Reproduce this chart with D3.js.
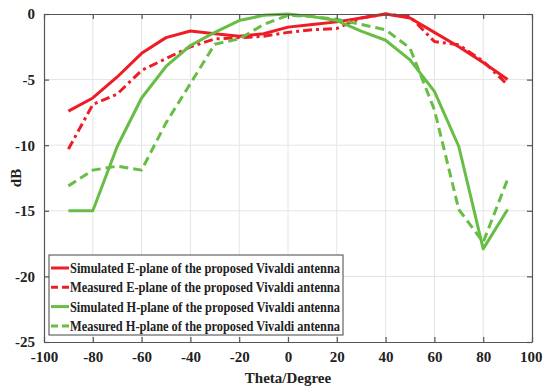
<!DOCTYPE html>
<html>
<head>
<meta charset="utf-8">
<script src="https://d3js.org/d3.v7.min.js"></script>
<style>
  body { margin: 0; background: white; }
  text { font-family: "Liberation Serif", "Times New Roman", serif; font-weight: bold; fill: #222; }
  .grid line { stroke: #e4e4e4; }
  .line { fill: none; stroke-width: 3px; stroke-linejoin: round; }
</style>
</head>
<body>
<div id="chart"></div>
<script>
const theta = [-90, -80, -70, -60, -50, -40, -30, -20, -10, 0, 10, 20, 30, 40, 50, 60, 70, 80, 90]
const simE  = [-7.4, -6.4, -4.8, -3.0, -1.8, -1.3, -1.5, -1.7, -1.5, -1.0, -0.8, -0.6, -0.3, 0, -0.3, -1.4, -2.5, -3.7, -5.0]
const measE = [-10.3, -6.9, -6.1, -4.3, -3.4, -2.5, -1.9, -1.8, -1.7, -1.4, -1.2, -1.1, -0.3, 0, -0.2, -2.1, -2.35, -3.6, -5.4]
const simH  = [-15, -15, -10.1, -6.4, -4.0, -2.4, -1.4, -0.5, -0.1, 0, -0.2, -0.5, -1.3, -2.0, -3.5, -5.9, -10.1, -17.9, -14.9]
const measH = [-13.1, -11.9, -11.6, -11.9, -8.3, -5.3, -2.3, -1.9, -0.8, -0.1, -0.2, -0.4, -0.8, -1.2, -2.6, -7.3, -14.9, -17.4, -12.6]

const xTicks = [-100, -80, -60, -40, -20, 0, 20, 40, 60, 80, 100]
const yTicks = [-25, -20, -15, -10, -5, 0]

const series = [
  {name: 'Simulated E-plane of the proposed Vivaldi antenna', values: simE, color: '#ee1c25', dash: null},
  {name: 'Measured E-plane of the proposed Vivaldi antenna', values: measE, color: '#ee1c25', dash: '9,4,3,4'},
  {name: 'Simulated H-plane of the proposed Vivaldi antenna', values: simH, color: '#68bd45', dash: null},
  {name: 'Measured H-plane of the proposed Vivaldi antenna', values: measH, color: '#68bd45', dash: '9,5'}
]

const width = 542, height = 389
const margin = {left: 44, right: 10, top: 14, bottom: 47}

const svg = d3.select('#chart').append('svg')
  .attr('width', width)
  .attr('height', height)

const x = d3.scaleLinear().domain([-100, 100]).range([margin.left, width - margin.right])
const y = d3.scaleLinear().domain([-25, 0]).range([height - margin.bottom, margin.top])

// grid
svg.append('g').attr('class', 'grid')
  .selectAll('line.gx').data(xTicks.slice(1, -1)).enter().append('line')
  .attr('x1', d => x(d)).attr('x2', d => x(d))
  .attr('y1', y(-25)).attr('y2', y(0))
svg.select('.grid')
  .selectAll('line.gy').data(yTicks.slice(1, -1)).enter().append('line')
  .attr('x1', x(-100)).attr('x2', x(100))
  .attr('y1', d => y(d)).attr('y2', d => y(d))

// lines
const line = d3.line()
  .x((d, i) => x(theta[i]))
  .y(d => y(d))

series.forEach(s => {
  svg.append('path')
    .datum(s.values)
    .attr('class', 'line')
    .attr('stroke', s.color)
    .attr('stroke-dasharray', s.dash)
    .attr('d', line)
})

// axes (matlab style box, ticks inside), plain hyphen for minus
const fmt = d => String(d)
const xAxis = d3.axisBottom(x).tickValues(xTicks).tickFormat(fmt).tickSizeInner(-5).tickSizeOuter(0).tickPadding(9)
const yAxis = d3.axisLeft(y).tickValues(yTicks).tickFormat(fmt).tickSizeInner(-5).tickSizeOuter(0).tickPadding(9)

const gx = svg.append('g').attr('transform', 'translate(0,' + y(-25) + ')').call(xAxis)
const gy = svg.append('g').attr('transform', 'translate(' + x(-100) + ',0)').call(yAxis)
svg.append('g').attr('transform', 'translate(0,' + y(0) + ')')
  .call(d3.axisTop(x).tickValues(xTicks).tickSizeInner(-5).tickSizeOuter(0).tickFormat(''))
svg.append('g').attr('transform', 'translate(' + x(100) + ',0)')
  .call(d3.axisRight(y).tickValues(yTicks).tickSizeInner(-5).tickSizeOuter(0).tickFormat(''))

svg.selectAll('.domain, .tick line').attr('stroke', '#555').attr('stroke-width', 1.2)
gx.selectAll('text').style('font-size', '15px').attr('fill', '#222')
gy.selectAll('text').style('font-size', '15px').attr('fill', '#222')
// keep the last label inside the window
gx.selectAll('.tick').filter(d => d === 100).select('text').attr('text-anchor', 'end').attr('dx', 10)

svg.append('text')
  .attr('x', x(0)).attr('y', 383)
  .attr('text-anchor', 'middle')
  .style('font-size', '15px')
  .text('Theta/Degree')

svg.append('text')
  .attr('transform', 'translate(21,' + y(-12.5) + ') rotate(-90)')
  .attr('text-anchor', 'middle')
  .style('font-size', '15px')
  .text('dB')

// legend
const lg = svg.append('g')
lg.append('rect')
  .attr('x', 49).attr('y', 255)
  .attr('width', 294).attr('height', 80)
  .attr('fill', 'white').attr('stroke', '#444').attr('stroke-width', 1)

series.forEach((s, i) => {
  const yy = 268 + i * 19.3
  lg.append('line')
    .attr('x1', 51).attr('x2', 69)
    .attr('y1', yy).attr('y2', yy)
    .attr('stroke', s.color).attr('stroke-width', 3)
    .attr('stroke-dasharray', s.dash ? '7,4' : null)
  lg.append('text')
    .attr('x', 70).attr('y', yy + 5)
    .attr('textLength', 270)
    .attr('lengthAdjust', 'spacingAndGlyphs')
    .style('font-size', '15px')
    .text(s.name)
})
</script>
</body>
</html>
